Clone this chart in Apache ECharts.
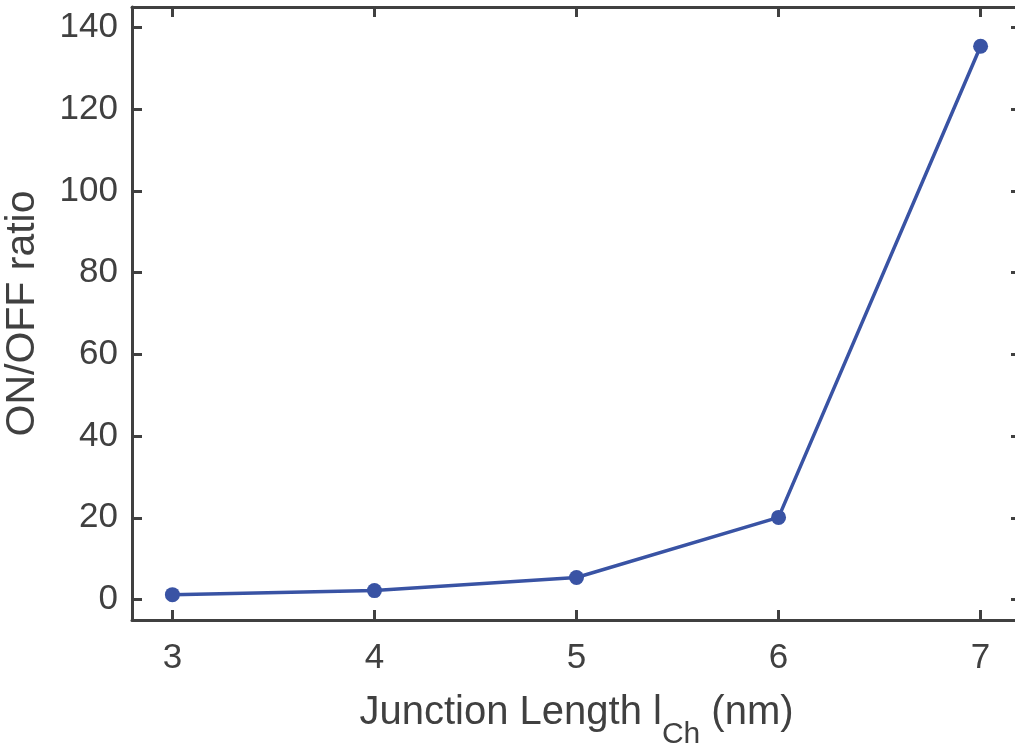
<!DOCTYPE html>
<html><head><meta charset="utf-8">
<script src="https://cdn.jsdelivr.net/npm/echarts@6/dist/echarts.min.js"></script>
<style>html,body{margin:0;padding:0;background:#fff;overflow:hidden}#c{width:1015px;height:743px}</style>
</head><body><div id="c"></div>
<script>
const xValues = [3, 4, 5, 6, 7];
const onOffRatio = [1.2, 2.2, 5.4, 20.1, 135.4];
const yTicks = [0, 20, 40, 60, 80, 100, 120, 140];
const xTicks = [3, 4, 5, 6, 7];

const axisColor = '#404040';
const font = 'Liberation Sans, Arial, sans-serif';
const chart = echarts.init(document.getElementById('c'));
const baseX = {
  type: 'value', min: 2.8, max: 7.2,
  axisLine: { show: true, onZero: false, lineStyle: { color: axisColor, width: 3 } },
  axisTick: { show: true, inside: true, length: 10, lineStyle: { color: axisColor, width: 3 }, customValues: xTicks },
  splitLine: { show: false }
};
const baseY = {
  type: 'value', min: -5, max: 145,
  axisLine: { show: true, onZero: false, lineStyle: { color: axisColor, width: 3 } },
  axisTick: { show: true, inside: true, length: 10, lineStyle: { color: axisColor, width: 3 }, customValues: yTicks },
  splitLine: { show: false }
};
chart.setOption({
  animation: false,
  grid: { left: 132, top: 7, right: -6, bottom: 123, containLabel: false, outerBoundsMode: 'none' },
  xAxis: [
    Object.assign({}, baseX, {
      position: 'bottom',
      axisLabel: { show: true, customValues: xTicks, color: axisColor, fontSize: 35, fontFamily: font, margin: 21 },
      name: '{a|Junction Length l}{s|Ch}{a| (nm)}',
      nameLocation: 'middle', nameGap: 56,
      nameTextStyle: { rich: {
        a: { fontSize: 40, color: axisColor, fontFamily: font },
        s: { fontSize: 30, color: axisColor, fontFamily: font, padding: [44, 0, 0, 0] }
      } }
    }),
    Object.assign({}, baseX, { position: 'top', axisLabel: { show: false } })
  ],
  yAxis: [
    Object.assign({}, baseY, {
      position: 'left',
      axisLabel: { show: true, customValues: yTicks, color: axisColor, fontSize: 35, fontFamily: font, margin: 14 },
      name: 'ON/OFF ratio', nameLocation: 'middle', nameGap: 89,
      nameTextStyle: { fontSize: 41, color: axisColor, fontFamily: font }
    }),
    Object.assign({}, baseY, { position: 'right', axisLabel: { show: false } })
  ],
  series: [{
    type: 'line',
    data: xValues.map((x, i) => [x, onOffRatio[i]]),
    symbol: 'circle', symbolSize: 15,
    lineStyle: { color: '#3953A4', width: 3.5 },
    itemStyle: { color: '#3953A4' }
  }]
});
</script></body></html>
